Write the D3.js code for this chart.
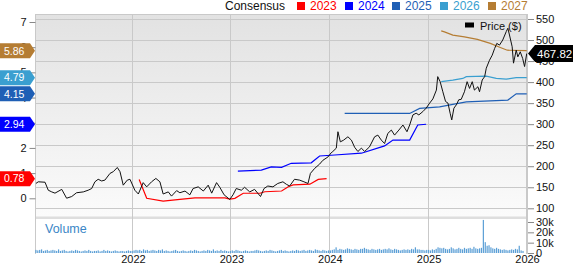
<!DOCTYPE html>
<html>
<head>
<meta charset="utf-8">
<script src="https://cdn.jsdelivr.net/npm/d3@7"></script>
<style>
  body { margin: 0; background: #fff; }
  svg { display: block; font-family: "Liberation Sans", Arial, sans-serif; }
</style>
</head>
<body>
<div id="chart"></div>
<script>
// Price + consensus EPS chart

// price line (close, $)
const priceDates = ["2021-01-06","2021-01-15","2021-02-09","2021-02-21","2021-03-06","2021-03-18","2021-04-12","2021-04-30","2021-05-19","2021-06-06","2021-07-01","2021-07-19","2021-08-01","2021-08-13","2021-08-25","2021-09-07","2021-09-19","2021-10-08","2021-10-20","2021-11-04","2021-11-14","2021-11-26","2021-12-11","2021-12-21",
  "2022-01-08","2022-01-21","2022-02-08","2022-02-21","2022-03-11","2022-03-27","2022-04-11","2022-04-23","2022-05-12","2022-05-24","2022-06-12","2022-06-24","2022-07-13","2022-07-31","2022-08-12","2022-08-31","2022-09-19","2022-10-07","2022-10-20","2022-11-07","2022-11-19","2022-12-05","2022-12-26",
  "2023-01-07","2023-01-19","2023-02-07","2023-02-19","2023-03-10","2023-03-28","2023-04-19","2023-05-02","2023-05-16","2023-06-04","2023-06-22","2023-07-11","2023-07-24","2023-08-05","2023-08-23","2023-09-11","2023-09-27","2023-10-12","2023-10-21","2023-11-06","2023-11-24","2023-12-06","2023-12-25",
  "2024-01-06","2024-01-12","2024-01-25","2024-01-31","2024-02-09","2024-02-21","2024-03-08","2024-03-21","2024-04-02","2024-04-14","2024-04-27","2024-05-09","2024-05-27","2024-06-15","2024-06-27","2024-07-10","2024-07-22","2024-08-03","2024-08-16","2024-08-28","2024-09-13","2024-09-28","2024-10-13","2024-10-23","2024-11-04","2024-11-16","2024-11-26","2024-12-11","2024-12-23",
  "2025-01-05","2025-01-17","2025-01-30","2025-02-04","2025-02-13","2025-02-23","2025-03-05","2025-03-14","2025-03-22","2025-03-28","2025-04-05","2025-04-14","2025-04-23","2025-05-02","2025-05-14","2025-05-24","2025-06-02","2025-06-12","2025-06-20","2025-07-03","2025-07-09","2025-07-19","2025-07-28","2025-08-03","2025-08-15","2025-08-25","2025-09-03","2025-09-11","2025-09-21","2025-10-03","2025-10-16","2025-10-22","2025-10-28","2025-11-07","2025-11-12","2025-11-22","2025-11-28","2025-12-07","2025-12-16","2025-12-23","2025-12-31"]
const priceClose = [159,163,162,143,139,136,145,124,128,137,139,143,147,163,169,165,167,183,187,197,187,155,167,169,
  143,134,161,151,163,171,163,134,139,129,142,137,141,132,147,151,141,155,136,161,150,132,121,
  132,147,143,150,139,145,128,147,153,151,159,163,157,153,169,167,163,159,183,195,205,214,222,
  232,235,243,282,258,262,270,262,245,235,243,235,246,270,274,262,254,278,286,274,286,298,282,298,322,326,322,330,338,
  350,360,381,413,401,377,354,350,326,310,338,346,358,359,377,401,385,401,381,389,377,405,413,433,452,464,480,492,488,500,520,528,512,484,445,476,460,472,456,437,467.82]

// consensus EPS estimates by fiscal year
const eps2023Dates = ["2022-01-24","2022-02-21","2022-04-23","2022-06-24","2022-08-19","2022-12-08","2022-12-26","2023-01-14","2023-02-14","2023-04-17","2023-05-05","2023-07-06","2023-07-31","2023-08-18","2023-10-19","2023-11-19","2023-12-20"]
const eps2023 = [0.75,0,-0.11,-0.04,0.02,0.02,-0.03,0,0.2,0.2,0.26,0.29,0.46,0.53,0.56,0.75,0.78]
const eps2024Dates = ["2023-01-25","2023-04-22","2023-05-29","2023-07-06","2023-08-11","2023-10-24","2023-11-24","2024-01-19","2024-04-27","2024-07-22","2024-08-22","2024-10-23","2024-11-22","2024-12-23"]
const eps2024 = [1.08,1.12,1.25,1.23,1.39,1.41,1.68,1.72,1.79,2.08,2.31,2.31,2.91,2.94]
const eps2025Dates = ["2024-02-25","2024-10-23","2024-11-29","2025-02-11","2025-04-01","2025-05-21","2025-10-22","2025-11-22","2025-12-31"]
const eps2025 = [3.37,3.37,3.57,3.63,3.73,3.83,3.9,4.15,4.15]
const eps2026Dates = ["2025-02-17","2025-04-01","2025-05-08","2025-05-21","2025-08-03","2025-09-09","2025-10-16","2025-11-22","2025-12-31"]
const eps2026 = [4.63,4.69,4.76,4.83,4.85,4.76,4.73,4.79,4.79]
const eps2027Dates = ["2025-02-17","2025-03-01","2025-04-01","2025-05-14","2025-07-01","2025-08-18","2025-09-24","2025-10-20","2025-12-31"]
const eps2027 = [6.65,6.61,6.48,6.41,6.31,6.15,5.99,5.88,5.86]

const yearLabels = ["2023", "2024", "2025", "2026", "2027"]
const yearColors = ["#ff0000", "#0000ff", "#1f5fb5", "#3a9fd0", "#b57d33"]
const lastEps = [0.78, 2.94, 4.15, 4.79, 5.86]

// weekly volume (thousands), one row per year from the first week of 2021
const vol2021 = [3,2.5,3,3.5,2,2.5,3,2,2.5,3,2.5,2,3.5,2,2.5,3,2,1.5,2,2.5,2,3,2.5,2,1.5,2,2.5,2,3,2,1.5,2,2,2.5,1.5,2,3,2,2.5,2,1.5,2,2.5,2,1.5,2,2,1.5,2,2.5,2,2]
const vol2022 = [2.5,3,2.5,3,2,3.5,2.5,3,2,2.5,3,2.5,2,3,2.5,3.5,2,2.5,2,1.5,2,2.5,3,2,1.5,2,2.5,2,1.5,2,2.5,2,3,2.5,2,1.5,2,2.5,2,3,2.5,2,3.5,2,2.5,2,3,2,2.5,2,1.5,2]
const vol2023 = [2.5,2,3,2.5,2,1.5,2,2.5,2,1.5,2,2,2.5,3,2.5,2,1.5,2,2.5,2,3,2.5,2,1.5,2,2.5,3,2,2.5,2,1.5,2,2.5,2,3,2.5,2,2.5,3,2,2.5,3,2.5,2,3.5,3,2.5,2,3,2.5,2,2.5]
const vol2024 = [2.5,3,3.5,5.5,3,4,3.5,3,3.5,4.5,4,3.5,3,4,3.5,3,4,4,5,4,3.5,3,4,3.5,3,3.5,4,3,3.5,4,3.5,4.5,3.5,3,4,3.5,3,2.5,3,3.5,3,3.5,3,4,3.5,5.5,3.5,3.5,3,3,2.5,3]
const vol2025 = [3,2.5,3.5,3,4,5.5,5,4.5,5,4,3.5,4,5.5,4.5,3.5,4,5,4,3.5,5,4,4.5,5,4,6,4.5,4,4.5,5,32,10.5,7,7.5,5.5,4.5,4,5,4,3.5,3,3.5,3,2.5,3,3.5,3,4,3.5,7,2.5,2]

const priceTicks = [100, 150, 200, 250, 300, 350, 400, 450, 500, 550]
const epsTicks = [0, 1, 2, 3, 4, 5, 6, 7]
const volTicks = [0, 10, 20, 30]
const volTickLabels = ["0", "10k", "20k", "30k"]
const yearTicks = ["2022", "2023", "2024", "2025", "2026"]

const width = 573
const height = 264
const plot = { left: 35.5, right: 527, top: 14, priceBottom: 217, volTop: 219, bottom: 254 }

const parse = d3.timeParse("%Y-%m-%d")

const x = d3.scaleTime()
  .domain([new Date(2021, 0, 1), new Date(2026, 0, 1)])
  .range([34.5, 527])
const yPrice = d3.scaleLinear().domain([100, 550]).range([208.3, 19])
const yEps = d3.scaleLinear().domain([0, 7]).range([198.3, 22])
const yVol = d3.scaleLinear().domain([0, 30]).range([253, 222])

const svg = d3.select('#chart')
  .append('svg')
  .attr('width', width)
  .attr('height', height)

const defs = svg.append('defs')
const grad = defs.append('linearGradient')
  .attr('id', 'bg').attr('x1', 0).attr('x2', 0).attr('y1', 0).attr('y2', 1)
grad.append('stop').attr('offset', '0%').attr('stop-color', '#e2e2e2')
grad.append('stop').attr('offset', '100%').attr('stop-color', '#fbfbfb')
defs.append('clipPath').attr('id', 'clip')
  .append('rect')
  .attr('x', plot.left).attr('y', plot.top)
  .attr('width', plot.right - plot.left).attr('height', plot.priceBottom - plot.top)

// backgrounds
svg.append('rect')
  .attr('x', plot.left).attr('y', plot.top)
  .attr('width', plot.right - plot.left).attr('height', plot.priceBottom - plot.top)
  .attr('fill', 'url(#bg)')
svg.append('rect')
  .attr('x', plot.left).attr('y', plot.priceBottom - 0.5)
  .attr('width', plot.right - plot.left).attr('height', 2.5)
  .attr('fill', '#dedede')

const gridColor = '#c9c9c9'

// horizontal grid (price)
svg.append('g').selectAll('line')
  .data(priceTicks)
  .join('line')
  .attr('x1', plot.left).attr('x2', plot.right)
  .attr('y1', d => Math.round(yPrice(d)) + 0.5).attr('y2', d => Math.round(yPrice(d)) + 0.5)
  .attr('stroke', gridColor)

// vertical grid
svg.append('g').selectAll('line')
  .data(yearTicks)
  .join('line')
  .attr('x1', d => Math.round(x(parse(d + "-01-01"))) - 0.5)
  .attr('x2', d => Math.round(x(parse(d + "-01-01"))) - 0.5)
  .attr('y1', plot.top).attr('y2', plot.bottom)
  .attr('stroke', gridColor)

// frame
svg.append('line')
  .attr('x1', plot.left).attr('x2', plot.left).attr('y1', plot.top).attr('y2', plot.bottom)
  .attr('stroke', gridColor)
svg.append('line')
  .attr('x1', plot.right + 0.5).attr('x2', plot.right + 0.5).attr('y1', plot.top).attr('y2', plot.bottom)
  .attr('stroke', gridColor)
svg.append('line')
  .attr('x1', plot.left).attr('x2', plot.right).attr('y1', plot.top + 0.5).attr('y2', plot.top + 0.5)
  .attr('stroke', gridColor)

// volume bars
const volData = [].concat(vol2021, vol2022, vol2023, vol2024, vol2025)
  .map((v, i) => ({ date: d3.timeWeek.offset(new Date(2021, 0, 4), i), v: v }))
svg.append('g').selectAll('rect')
  .data(volData)
  .join('rect')
  .attr('x', d => x(d.date))
  .attr('width', 1.2)
  .attr('y', d => yVol(d.v))
  .attr('height', d => yVol(0) - yVol(d.v))
  .attr('fill', '#5b9fd6')

svg.append('text')
  .text('Volume')
  .attr('x', 45).attr('y', 233)
  .attr('font-size', 12.5)
  .attr('fill', '#3a86c6')

// consensus lines
const epsSeries = [
  [eps2023Dates, eps2023], [eps2024Dates, eps2024], [eps2025Dates, eps2025],
  [eps2026Dates, eps2026], [eps2027Dates, eps2027]
]
const epsLine = d3.line().x(d => x(d.date)).y(d => yEps(d.v))
const linesG = svg.append('g').attr('clip-path', 'url(#clip)')
epsSeries.forEach((s, i) => {
  const pts = s[0].map((d, j) => ({ date: parse(d), v: s[1][j] }))
  linesG.append('path')
    .datum(pts)
    .attr('d', epsLine)
    .attr('fill', 'none')
    .attr('stroke', yearColors[i])
    .attr('stroke-width', 1.2)
})

// price line
const priceData = priceDates.map((d, i) => ({ date: parse(d), v: priceClose[i] }))
linesG.append('path')
  .datum(priceData)
  .attr('d', d3.line().x(d => x(d.date)).y(d => yPrice(d.v)))
  .attr('fill', 'none')
  .attr('stroke', '#111')
  .attr('stroke-width', 1)

// right axis (price)
const rightAxis = svg.append('g')
  .attr('transform', `translate(${plot.right + 1},0)`)
  .call(d3.axisRight(yPrice).tickValues(priceTicks).tickSize(6).tickPadding(2))
rightAxis.select('.domain').remove()

// right axis (volume)
const volAxis = svg.append('g')
  .attr('transform', `translate(${plot.right + 1},0)`)
  .call(d3.axisRight(yVol).tickValues(volTicks).tickSize(6).tickPadding(2)
    .tickFormat((d, i) => volTickLabels[i]))
volAxis.select('.domain').remove()

// left axis (EPS)
const leftAxis = svg.append('g')
  .attr('transform', `translate(${plot.left},0)`)
  .call(d3.axisLeft(yEps).tickValues(epsTicks).tickSize(6).tickPadding(3)
    .tickFormat(d3.format('d')))
leftAxis.select('.domain').remove()

// bottom axis
const bottomAxis = svg.append('g')
  .attr('transform', `translate(0,${plot.bottom - 1})`)
  .call(d3.axisBottom(x).tickValues(yearTicks.map(d => parse(d + "-01-01")))
    .tickFormat(d3.timeFormat('%Y')).tickSize(0).tickPadding(2))
bottomAxis.select('.domain').remove()

svg.selectAll('.tick line').attr('stroke', '#888')
svg.selectAll('.tick text').attr('font-family', '"Liberation Sans", Arial, sans-serif')
  .attr('font-size', 11).attr('fill', '#111')

// left badges for latest consensus values
lastEps.forEach((v, i) => {
  const cy = yEps(v)
  const g = svg.append('g')
  g.append('path')
    .attr('d', `M0,${cy - 7.5} H30 L35,${cy} L30,${cy + 7.5} H0 Z`)
    .attr('fill', yearColors[i])
  g.append('text')
    .text(v.toFixed(2))
    .attr('x', 4).attr('y', cy + 3.8)
    .attr('font-size', 10.5)
    .attr('fill', '#fff')
})

// last price badge
const lastPrice = priceClose[priceClose.length - 1]
const py = yPrice(lastPrice)
svg.append('path')
  .attr('d', `M528,${py} L535,${py - 8.5} H573 V${py + 8.5} H535 Z`)
  .attr('fill', '#000')
svg.append('text')
  .text(lastPrice.toFixed(2))
  .attr('x', 537).attr('y', py + 4)
  .attr('font-size', 11.5)
  .attr('fill', '#fff')

// legend
svg.append('text')
  .text('Consensus')
  .attr('x', 225).attr('y', 10)
  .attr('font-size', 12)
  .attr('fill', '#111')
const legendX = [297, 345, 392, 440, 488]
yearLabels.forEach((label, i) => {
  svg.append('rect')
    .attr('x', legendX[i]).attr('y', 2)
    .attr('width', 8).attr('height', 8)
    .attr('fill', yearColors[i])
  svg.append('text')
    .text(label)
    .attr('x', legendX[i] + 13).attr('y', 10)
    .attr('font-size', 12)
    .attr('fill', yearColors[i])
})

svg.append('rect')
  .attr('x', 465).attr('y', 22.5)
  .attr('width', 9).attr('height', 5)
  .attr('fill', '#000')
svg.append('text')
  .text('Price ($)')
  .attr('x', 480).attr('y', 29.5)
  .attr('font-size', 11)
  .attr('fill', '#111')
</script>
</body>
</html>
